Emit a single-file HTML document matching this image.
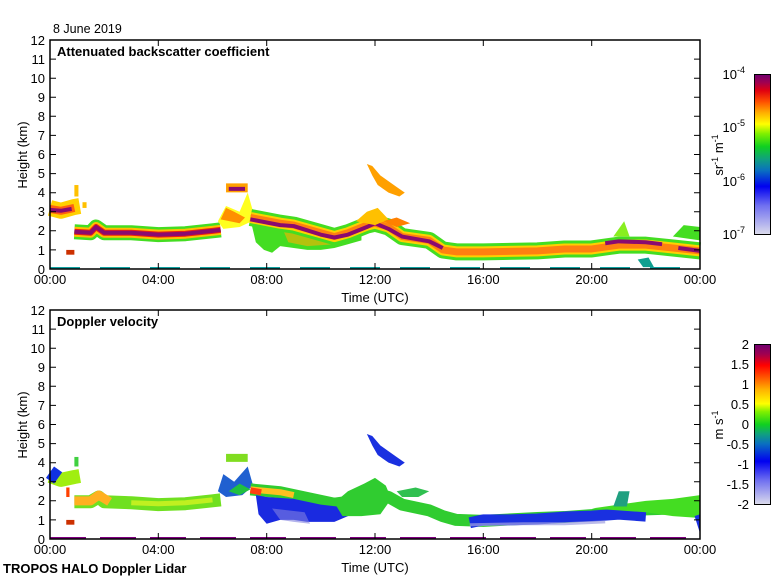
<!DOCTYPE html>
<html><head><meta charset="utf-8">
<style>
html,body{margin:0;padding:0;background:#fff;}
svg{display:block;font-family:"Liberation Sans",sans-serif;}
</style></head><body>
<svg width="780" height="580" viewBox="0 0 780 580" xmlns="http://www.w3.org/2000/svg">
<defs>
<linearGradient id="cb1" x1="0" y1="1" x2="0" y2="0">
<stop offset="0" stop-color="#dcdcec"/>
<stop offset="0.18" stop-color="#7070f0"/>
<stop offset="0.3" stop-color="#0000f0"/>
<stop offset="0.4" stop-color="#0a70c0"/>
<stop offset="0.47" stop-color="#10a080"/>
<stop offset="0.55" stop-color="#10d020"/>
<stop offset="0.63" stop-color="#80f000"/>
<stop offset="0.69" stop-color="#ffff00"/>
<stop offset="0.76" stop-color="#ffb000"/>
<stop offset="0.83" stop-color="#ff5000"/>
<stop offset="0.9" stop-color="#e00010"/>
<stop offset="0.95" stop-color="#a00050"/>
<stop offset="1" stop-color="#700070"/>
</linearGradient>
<linearGradient id="cb2" x1="0" y1="1" x2="0" y2="0">
<stop offset="0" stop-color="#dcdcec"/>
<stop offset="0.15" stop-color="#7070f0"/>
<stop offset="0.27" stop-color="#0000f0"/>
<stop offset="0.38" stop-color="#0a70c0"/>
<stop offset="0.44" stop-color="#10a080"/>
<stop offset="0.5" stop-color="#10d020"/>
<stop offset="0.58" stop-color="#80f000"/>
<stop offset="0.63" stop-color="#ffff00"/>
<stop offset="0.72" stop-color="#ffb000"/>
<stop offset="0.8" stop-color="#ff5000"/>
<stop offset="0.87" stop-color="#ff0000"/>
<stop offset="0.94" stop-color="#a00050"/>
<stop offset="1" stop-color="#700070"/>
</linearGradient>
</defs>

<!-- ================= TOP PANEL ================= -->
<g transform="translate(50,269) scale(27.083,-19.083)" fill="none" stroke-linejoin="round" stroke-linecap="butt">
  <polygon points="7.4,2.6 8,2.4 9,2.3 10,2.0 10.6,1.9 11,2.0 11.5,2.3 11.5,1.5 11,1.3 10.5,1.1 10,1.0 9.5,1.0 9,1.1 8.5,1.2 8.2,0.85 7.9,1.0 7.6,1.4" fill="#44dd22" stroke="none"/>
  <polygon points="8.5,2.4 9.2,2.3 10,2.0 10.5,1.9 10.5,1.3 9.5,1.2 8.8,1.4" fill="#ffb000" stroke="none" opacity="0.6"/>
  <path d="M0,3.2 L0.4,3.05 L0.9,3.25 L1.1,3.3" stroke="#ffd000" stroke-width="16" vector-effect="non-scaling-stroke"/>
  <path d="M0,3.15 L0.4,3.05 L0.9,3.2" stroke="#ff6010" stroke-width="8" vector-effect="non-scaling-stroke"/>
  <path d="M0,3.1 L0.4,3.05 L0.8,3.15" stroke="#8a0a70" stroke-width="4" vector-effect="non-scaling-stroke"/>
  <path d="M0.9,1.95 L1.5,1.9 L1.7,2.2 L2,1.9 L3,1.9 L4,1.8 L5,1.85 L6,2.0 L6.3,2.05" stroke="#44dd22" stroke-width="15" vector-effect="non-scaling-stroke"/>
  <path d="M0.9,1.95 L1.5,1.9 L1.7,2.2 L2,1.9 L3,1.9 L4,1.8 L5,1.85 L6,2.0 L6.3,2.05" stroke="#ffc000" stroke-width="10" vector-effect="non-scaling-stroke"/>
  <path d="M0.9,1.95 L1.5,1.9 L1.7,2.2 L2,1.9 L3,1.9 L4,1.8 L5,1.85 L6,2.0 L6.3,2.05" stroke="#ee2010" stroke-width="6" vector-effect="non-scaling-stroke"/>
  <path d="M0.9,1.95 L1.5,1.9 L1.7,2.2 L2,1.9 L3,1.9 L4,1.8 L5,1.85 L6,2.0 L6.3,2.05" stroke="#8a0a70" stroke-width="4" vector-effect="non-scaling-stroke"/>
  <path d="M6.5,4.25 L7.3,4.25" stroke="#ffa000" stroke-width="9" vector-effect="non-scaling-stroke"/>
  <path d="M6.6,4.2 L7.2,4.2" stroke="#8a0a70" stroke-width="4" vector-effect="non-scaling-stroke"/>
  <polygon points="6.2,2.5 6.5,3.3 7,3.0 7.3,4.0 7.5,3.0 7.6,2.6 7.0,2.2 6.4,2.1" fill="#ffff20" stroke="none"/>
  <polygon points="6.3,2.6 6.5,3.2 6.8,3.0 7.2,2.7 7.0,2.4" fill="#ff9000" stroke="none"/>
  <path d="M7.4,2.7 L8.5,2.4 L9,2.3 L10,1.9 L10.5,1.7 L11,1.9 L11.7,2.3 L12,2.4 L12.5,2.2 L13,1.7 L14,1.5 L14.5,1.0 L15,0.9 L16,0.9 L18,0.95 L19,1.05 L20,1.05 L21,1.25 L22,1.25 L23,1.1 L24,0.95" stroke="#44dd22" stroke-width="17" vector-effect="non-scaling-stroke"/>
  <path d="M7.4,2.7 L8.5,2.4 L9,2.3 L10,1.9 L10.5,1.7 L11,1.9 L11.7,2.3 L12,2.4 L12.5,2.2 L13,1.7 L14,1.5 L14.5,1.0 L15,0.9 L16,0.9 L18,0.95 L19,1.05 L20,1.05 L21,1.25 L22,1.25 L23,1.1 L24,0.95" stroke="#ffd000" stroke-width="11" vector-effect="non-scaling-stroke"/>
  <path d="M7.4,2.7 L8.5,2.4 L9,2.3 L10,1.9 L10.5,1.7 L11,1.9 L11.7,2.3 L12,2.4 L12.5,2.2 L13,1.7 L14,1.5 L14.5,1.0 L15,0.9 L16,0.9 L18,0.95 L19,1.05 L20,1.05 L21,1.25 L22,1.25 L23,1.1 L24,0.95" stroke="#ff8010" stroke-width="7" vector-effect="non-scaling-stroke"/>
  <path d="M7.4,2.6 L8.5,2.3 L9,2.25 L10,1.8 L10.5,1.65 L11,1.8 L11.7,2.2 L12,2.4 L12.5,2.1 L13,1.7 L14,1.45 L14.5,1.1" stroke="#8a0a70" stroke-width="4" vector-effect="non-scaling-stroke"/>
  <path d="M20.5,1.35 L21,1.45 L22,1.4 L22.6,1.3" stroke="#8a0a70" stroke-width="4" vector-effect="non-scaling-stroke"/>
  <path d="M23.2,1.1 L24,0.95" stroke="#8a0a70" stroke-width="4" vector-effect="non-scaling-stroke"/>
  <polygon points="20.8,1.7 21.2,2.5 21.4,1.7" fill="#88ee20" stroke="none"/>
  <polygon points="23,1.7 23.4,2.3 24,2.2 24,1.5" fill="#44dd22" stroke="none"/>
  <polygon points="11.3,2.5 11.7,3.0 12.1,3.2 12.5,2.6 12,2.3" fill="#ffc000" stroke="none"/>
  <polygon points="12.3,2.5 12.8,2.7 13.3,2.4 12.8,2.2" fill="#ff8000" stroke="none"/>
  <polygon points="21.7,0.5 21.9,0.1 22.3,0.1 22.1,0.6" fill="#10a090" stroke="none"/>
  <polygon points="11.7,5.5 11.9,5.4 12.2,4.9 12.5,4.6 12.8,4.3 13.1,4.0 12.9,3.8 12.5,4.0 12.1,4.4 11.9,4.9" fill="#ffa000" stroke="none"/>
  <rect x="0.9" y="3.8" width="0.15" height="0.6" fill="#ffc000" stroke="none"/>
  <rect x="1.2" y="3.2" width="0.15" height="0.3" fill="#ffc000" stroke="none"/>
  <rect x="0.6" y="0.75" width="0.3" height="0.25" fill="#cc3000" stroke="none"/>
  <path d="M0,0.05 L24,0.05" stroke="#10a0a0" stroke-width="2" stroke-dasharray="30,20" vector-effect="non-scaling-stroke"/>
</g>

<!-- ================= BOTTOM PANEL ================= -->
<g transform="translate(50,539) scale(27.083,-19.083)" fill="none" stroke-linejoin="round">
  <path d="M0,3.3 L0.4,3.1 L0.9,3.25 L1.1,3.3" stroke="#a0ee10" stroke-width="14" vector-effect="non-scaling-stroke"/>
  <path d="M0,3.5 L0.3,3.2" stroke="#1030e0" stroke-width="14" vector-effect="non-scaling-stroke"/>
  <path d="M0.9,1.95 L1.5,1.95 L1.8,2.2 L2,1.95 L3,1.9 L4,1.8 L5,1.85 L6,2.0 L6.3,2.05" stroke="#70e020" stroke-width="13" vector-effect="non-scaling-stroke"/>
  <path d="M0.9,2.0 L1.5,2.0 L1.8,2.3 L2.2,1.95" stroke="#ffb020" stroke-width="9" vector-effect="non-scaling-stroke"/>
  <path d="M3,1.9 L4,1.85 L5,1.9 L6,2.05" stroke="#c0f020" stroke-width="5" vector-effect="non-scaling-stroke"/>
  <path d="M6.5,4.25 L7.3,4.25" stroke="#80dd20" stroke-width="8" vector-effect="non-scaling-stroke"/>
  <polygon points="6.2,2.5 6.4,3.4 6.8,3.0 7.3,3.8 7.5,2.8 7.1,2.3 6.5,2.2" fill="#2060d0" stroke="none"/>
  <polygon points="6.6,2.5 7.0,2.9 7.4,2.6 7.0,2.3" fill="#20c040" stroke="none"/>
  <path d="M7.4,2.6 L8.5,2.45 L9,2.3 L10,2.0 L10.5,1.85 L11,1.95 L11.7,2.3 L12,2.4 L12.5,2.2 L13,1.8 L14,1.5 L14.5,1.2 L15,1.0 L16,0.95 L18,1.1 L19,1.15 L20,1.25 L21,1.45 L22,1.55 L23,1.6 L24,1.5" stroke="#30cc30" stroke-width="12" vector-effect="non-scaling-stroke"/>
  <polygon points="7.6,2.3 8,2.2 9,2.1 10,1.8 10.6,1.7 11.2,1.8 11.5,1.9 11.6,1.4 11,1.2 10.5,0.9 9.5,0.9 9,1.0 8.5,1.0 8,0.8 7.7,1.3" fill="#1a2ae0" stroke="none"/>
  <polygon points="8.2,1.6 8.5,1.0 9,0.9 9.6,0.8 9.4,1.4" fill="#8080e0" stroke="none" opacity="0.6"/>
  <path d="M7.4,2.6 L8.5,2.45 L9,2.3" stroke="#ffc020" stroke-width="6" vector-effect="non-scaling-stroke"/>
  <path d="M7.4,2.55 L7.8,2.45" stroke="#ff4010" stroke-width="6" vector-effect="non-scaling-stroke"/>
  <polygon points="10.5,1.9 11,2.5 11.6,2.9 12,3.2 12.4,2.8 12.6,2.1 12.2,1.3 11.5,1.2 10.8,1.2" fill="#30cc30" stroke="none"/>
  <polygon points="12.8,2.5 13.5,2.7 14,2.5 13.6,2.2 13,2.2" fill="#30c050" stroke="none"/>
  <path d="M15.5,0.85 L16,1.0 L17,1.0 L18,1.05 L19,1.15 L20,1.2 L21,1.3 L22,1.2" stroke="#1a30e0" stroke-width="11" vector-effect="non-scaling-stroke"/>
  <path d="M15.5,0.75 L17.5,0.8 L19,0.8 L20.5,0.9" stroke="#a0a0e0" stroke-width="3" vector-effect="non-scaling-stroke" opacity="0.7"/>
  <polygon points="20,1.6 21,1.8 22,2.0 23,2.1 24,2.3 24,1.1 23,1.2 22,1.4 21,1.5" fill="#44dd22" stroke="none"/>
  <polygon points="20.8,1.7 21.0,2.5 21.4,2.5 21.3,1.7" fill="#20a080" stroke="none"/>
  <polygon points="23.8,1.2 24,0.3 24,1.3" fill="#1a30e0" stroke="none"/>
  <polygon points="11.7,5.5 11.9,5.4 12.2,4.9 12.5,4.6 12.8,4.3 13.1,4.0 12.9,3.8 12.5,4.0 12.1,4.4 11.9,4.9" fill="#1a30e0" stroke="none"/>
  <rect x="0.9" y="3.8" width="0.15" height="0.5" fill="#40d040" stroke="none"/>
  <rect x="0.6" y="0.75" width="0.3" height="0.25" fill="#cc3000" stroke="none"/>
  <rect x="0.6" y="2.2" width="0.12" height="0.5" fill="#ff4000" stroke="none"/>
  <path d="M0,0.05 L24,0.05" stroke="#800080" stroke-width="2" stroke-dasharray="36,14" vector-effect="non-scaling-stroke"/>
</g>

<!-- ================= AXES ================= -->
<g stroke="#000" stroke-width="1.5" fill="none">
  <rect x="50" y="40" width="650" height="229"/>
  <rect x="50" y="310" width="650" height="229"/>
</g>
<g stroke="#000" stroke-width="1">
  <path d="M50,59.1h6M50,78.2h6M50,97.2h6M50,116.3h6M50,135.4h6M50,154.5h6M50,173.6h6M50,192.7h6M50,211.7h6M50,230.8h6M50,249.9h6
           M700,59.1h-6M700,78.2h-6M700,97.2h-6M700,116.3h-6M700,135.4h-6M700,154.5h-6M700,173.6h-6M700,192.7h-6M700,211.7h-6M700,230.8h-6M700,249.9h-6"/>
  <path d="M158.3,269v-6M266.7,269v-6M375,269v-6M483.3,269v-6M591.7,269v-6M158.3,40v6M266.7,40v6M375,40v6M483.3,40v6M591.7,40v6"/>
  <path d="M50,329.1h6M50,348.2h6M50,367.2h6M50,386.3h6M50,405.4h6M50,424.5h6M50,443.6h6M50,462.7h6M50,481.7h6M50,500.8h6M50,519.9h6
           M700,329.1h-6M700,348.2h-6M700,367.2h-6M700,386.3h-6M700,405.4h-6M700,424.5h-6M700,443.6h-6M700,462.7h-6M700,481.7h-6M700,500.8h-6M700,519.9h-6"/>
  <path d="M158.3,539v-6M266.7,539v-6M375,539v-6M483.3,539v-6M591.7,539v-6M158.3,310v6M266.7,310v6M375,310v6M483.3,310v6M591.7,310v6"/>
</g>

<g font-size="13" fill="#000" text-anchor="end">
  <text x="45" y="45">12</text><text x="45" y="64">11</text><text x="45" y="83">10</text><text x="45" y="102">9</text>
  <text x="45" y="121">8</text><text x="45" y="140">7</text><text x="45" y="159">6</text><text x="45" y="178">5</text>
  <text x="45" y="197">4</text><text x="45" y="216">3</text><text x="45" y="235">2</text><text x="45" y="255">1</text><text x="45" y="274">0</text>
  <text x="45" y="315">12</text><text x="45" y="334">11</text><text x="45" y="353">10</text><text x="45" y="372">9</text>
  <text x="45" y="391">8</text><text x="45" y="410">7</text><text x="45" y="429">6</text><text x="45" y="448">5</text>
  <text x="45" y="467">4</text><text x="45" y="486">3</text><text x="45" y="505">2</text><text x="45" y="525">1</text><text x="45" y="544">0</text>
</g>
<g font-size="13" fill="#000" text-anchor="middle">
  <text x="50" y="284">00:00</text><text x="158.3" y="284">04:00</text><text x="266.7" y="284">08:00</text>
  <text x="375" y="284">12:00</text><text x="483.3" y="284">16:00</text><text x="591.7" y="284">20:00</text><text x="700" y="284">00:00</text>
  <text x="50" y="554">00:00</text><text x="158.3" y="554">04:00</text><text x="266.7" y="554">08:00</text>
  <text x="375" y="554">12:00</text><text x="483.3" y="554">16:00</text><text x="591.7" y="554">20:00</text><text x="700" y="554">00:00</text>
  <text x="375" y="302">Time (UTC)</text>
  <text x="375" y="572">Time (UTC)</text>
  <text transform="translate(27,155) rotate(-90)">Height (km)</text>
  <text transform="translate(27,425) rotate(-90)">Height (km)</text>
</g>
<text x="53" y="33" font-size="12.5">8 June 2019</text>
<text x="57" y="56" font-size="13" font-weight="bold">Attenuated backscatter coefficient</text>
<text x="57" y="326" font-size="13" font-weight="bold">Doppler velocity</text>
<text x="3" y="573" font-size="13" font-weight="bold">TROPOS HALO Doppler Lidar</text>

<rect x="754.5" y="74.5" width="16" height="160" fill="url(#cb1)" stroke="#000" stroke-width="1"/>
<g font-size="13" text-anchor="end">
  <text x="745" y="79">10<tspan font-size="9" dy="-6">-4</tspan></text>
  <text x="745" y="132">10<tspan font-size="9" dy="-6">-5</tspan></text>
  <text x="745" y="186">10<tspan font-size="9" dy="-6">-6</tspan></text>
  <text x="745" y="239">10<tspan font-size="9" dy="-6">-7</tspan></text>
</g>
<text transform="translate(723,155) rotate(-90)" font-size="13" text-anchor="middle">sr<tspan font-size="9" dy="-5">-1</tspan><tspan dy="5"> m</tspan><tspan font-size="9" dy="-5">-1</tspan></text>

<rect x="754.5" y="344.5" width="16" height="160" fill="url(#cb2)" stroke="#000" stroke-width="1"/>
<g font-size="13" text-anchor="end">
  <text x="749" y="349">2</text><text x="749" y="369">1.5</text><text x="749" y="389">1</text>
  <text x="749" y="409">0.5</text><text x="749" y="429">0</text><text x="749" y="449">-0.5</text>
  <text x="749" y="469">-1</text><text x="749" y="489">-1.5</text><text x="749" y="509">-2</text>
</g>
<text transform="translate(723,425) rotate(-90)" font-size="13" text-anchor="middle">m s<tspan font-size="9" dy="-5">-1</tspan></text>
</svg>
</body></html>
